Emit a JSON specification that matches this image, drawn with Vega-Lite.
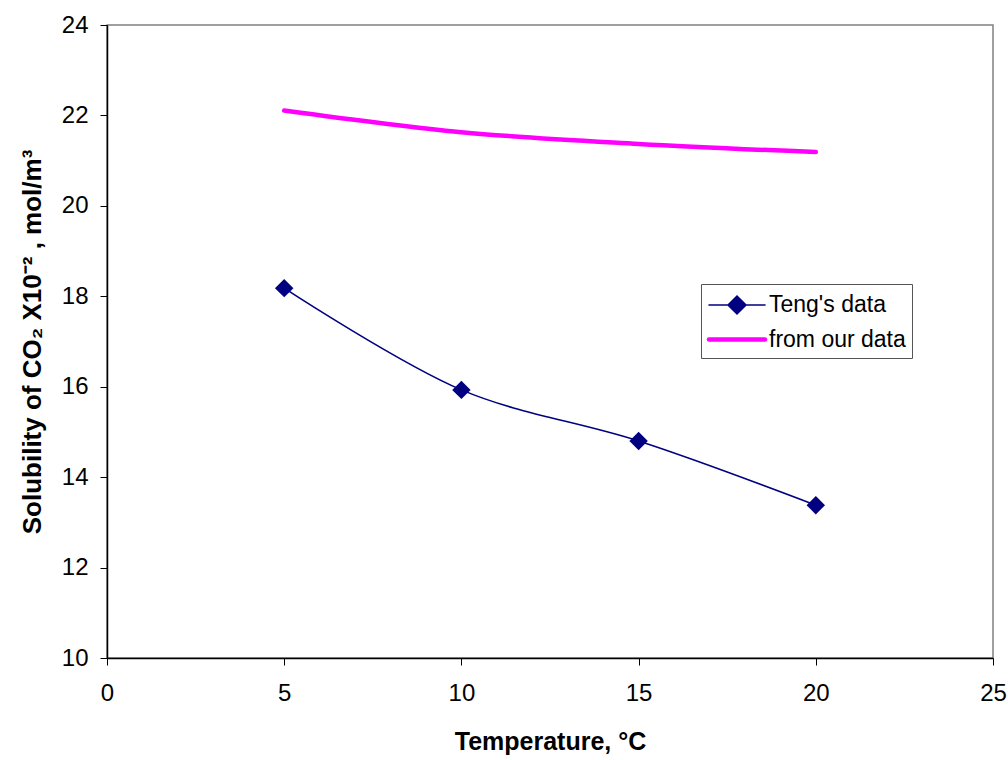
{
  "$schema": "https://vega.github.io/schema/vega-lite/v6.json",
  "width": 886,
  "height": 633,
  "autosize": "none",
  "padding": {"left": 107, "top": 25, "right": 15, "bottom": 102},
  "background": "white",
  "config": {
    "font": "Liberation Sans",
    "view": {"stroke": "#808080", "strokeWidth": 1.5}
  },
  "data": {
    "values": [
      {"t": 5, "s": 18.18, "series": "Teng's data"},
      {"t": 10, "s": 15.93, "series": "Teng's data"},
      {"t": 15, "s": 14.8, "series": "Teng's data"},
      {"t": 20, "s": 13.38, "series": "Teng's data"},
      {"t": 5, "s": 22.11, "series": "from our data"},
      {"t": 10, "s": 21.63, "series": "from our data"},
      {"t": 15, "s": 21.37, "series": "from our data"},
      {"t": 20, "s": 21.19, "series": "from our data"}
    ]
  },
  "encoding": {
    "x": {
      "field": "t", "type": "quantitative",
      "scale": {"domain": [0, 25], "nice": false, "zero": false},
      "axis": {
        "title": "Temperature, °C", "values": [0, 5, 10, 15, 20, 25], "grid": false,
        "domainColor": "#000000", "domainWidth": 1.5, "tickColor": "#000000", "tickSize": 7,
        "labelFontSize": 24, "labelColor": "#000000", "labelPadding": 16, "labelFlush": false,
        "titleFontSize": 25, "titleFontWeight": "bold", "titleColor": "#000000", "titlePadding": 24
      }
    },
    "y": {
      "field": "s", "type": "quantitative",
      "scale": {"domain": [10, 24], "nice": false, "zero": false},
      "axis": {
        "title": "Solubility of CO₂ X10⁻² , mol/m³", "values": [10, 12, 14, 16, 18, 20, 22, 24], "grid": false,
        "domainColor": "#000000", "domainWidth": 1.5, "tickColor": "#000000", "tickSize": 7,
        "labelFontSize": 24, "labelColor": "#000000", "labelPadding": 12,
        "titleFontSize": 26, "titleFontWeight": "bold", "titleColor": "#000000", "titlePadding": 16
      }
    },
    "color": {
      "field": "series", "type": "nominal",
      "scale": {"domain": ["Teng's data", "from our data"], "range": ["#000080", "#FF00FF"]},
      "legend": {
        "title": null, "orient": "none", "legendX": 594, "legendY": 259,
        "strokeColor": "#555555", "fillColor": "white", "padding": 6,
        "labelFontSize": 23, "labelColor": "#000000", "labelOffset": 29,
        "symbolSize": 784, "rowPadding": 5,
        "encode": {
          "symbols": {
            "update": {
              "shape": {"signal": "datum.index == 0 ? 'M-2,0H2M-0.64,0L0,-0.64L0.64,0L0,0.64Z' : 'M-2,0H2'"},
              "strokeWidth": {"signal": "datum.index == 0 ? 2 : 5.5"},
              "fill": {"signal": "datum.index == 0 ? '#000080' : 'transparent'"},
              "stroke": {"signal": "datum.index == 0 ? '#000080' : '#FF00FF'"},
              "strokeCap": {"value": "round"},
              "opacity": {"value": 1},
              "x": {"value": 30}
            }
          }
        }
      }
    }
  },
  "layer": [
    {
      "mark": {"type": "line", "interpolate": "catmull-rom", "strokeCap": "round"},
      "encoding": {
        "strokeWidth": {
          "field": "series", "type": "nominal",
          "scale": {"domain": ["Teng's data", "from our data"], "range": [1.6, 4.5]},
          "legend": null
        }
      }
    },
    {
      "transform": [{"filter": "datum.series == \"Teng's data\""}],
      "mark": {"type": "point", "shape": "diamond", "filled": true, "size": 340, "opacity": 1},
      "encoding": {}
    }
  ]
}
